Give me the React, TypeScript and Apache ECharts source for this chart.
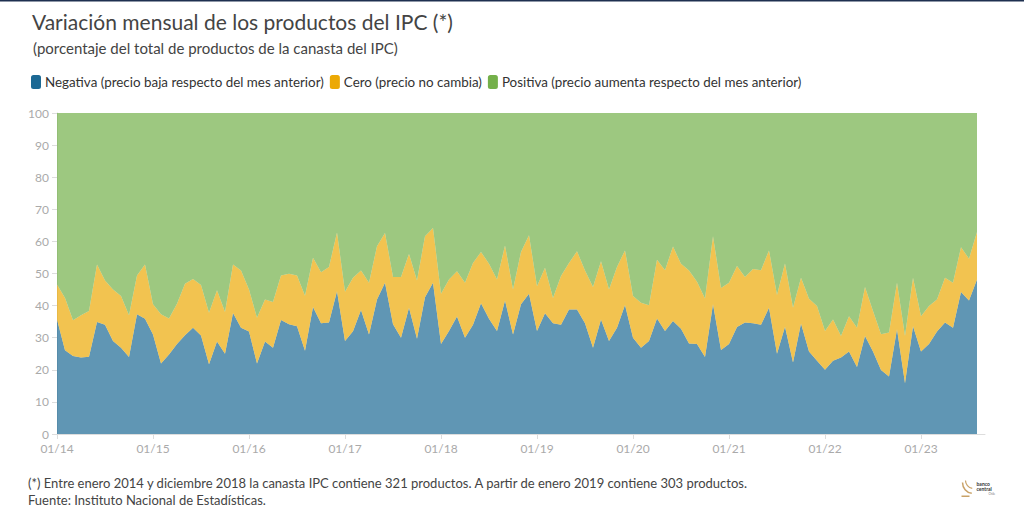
import { useEffect, useRef } from 'react';
import * as echarts from 'echarts';

// meses ene-2014 .. sep-2023 (el último sin dato, deja el aire a la derecha del eje)
const years = ['14', '15', '16', '17', '18', '19', '20', '21', '22', '23'];
const months = ['01', '02', '03', '04', '05', '06', '07', '08', '09', '10', '11', '12'];
const categories: string[] = [];
years.forEach((y) => months.forEach((m) => categories.push(`${m}/${y}`)));
categories.splice(117);

// % de productos con variación negativa
const negativa = [
  35.7, 26.1, 24.3, 23.8, 24.1, 34.9, 34.0, 29.0, 26.9, 24.0, 37.3, 35.9,
  31.0, 22.0, 24.8, 28.0, 30.8, 33.1, 30.7, 21.7, 28.8, 25.0, 37.7, 33.1,
  31.9, 22.0, 28.8, 26.9, 35.5, 34.2, 33.6, 25.9, 39.6, 34.5, 34.7, 44.5,
  29.0, 32.0, 38.6, 31.0, 41.9, 47.1, 34.2, 30.0, 39.3, 29.7, 42.6, 47.1,
  28.0, 32.1, 36.6, 30.0, 34.0, 40.7, 35.9, 32.1, 41.6, 31.0, 40.4, 43.7,
  32.1, 37.6, 34.5, 34.0, 38.8, 38.8, 34.5, 26.9, 35.7, 29.0, 33.1, 40.2,
  30.0, 26.9, 29.0, 36.0, 32.1, 35.2, 32.8, 28.2, 28.0, 24.0, 40.4, 26.2,
  28.0, 33.3, 34.7, 34.5, 34.0, 39.3, 25.0, 33.4, 22.3, 34.4, 25.7, 22.8,
  20.0, 22.8, 23.8, 25.7, 20.9, 30.5, 25.7, 19.9, 17.9, 32.6, 15.8, 33.6,
  25.7, 28.0, 31.9, 34.7, 33.1, 44.2, 41.6, 48.1,
];

// % de productos sin cambio de precio
const cero = [
  10.9, 16.3, 11.1, 13.2, 14.2, 17.9, 13.8, 16.0, 16.1, 13.0, 12.1, 16.9,
  9.4, 15.3, 11.2, 12.6, 16.0, 15.2, 15.7, 16.1, 16.0, 13.0, 15.1, 17.8,
  13.1, 14.2, 13.1, 14.2, 13.9, 15.7, 15.8, 17.2, 15.3, 15.9, 17.3, 18.3,
  15.3, 16.7, 12.3, 16.1, 16.6, 15.5, 14.7, 18.9, 16.8, 18.1, 19.0, 17.1,
  15.7, 16.0, 14.1, 17.1, 19.3, 16.0, 17.1, 16.0, 17.1, 14.0, 16.3, 18.2,
  13.9, 14.2, 7.9, 15.2, 14.5, 18.1, 16.4, 18.9, 18.1, 16.0, 18.9, 17.0,
  13.0, 14.0, 11.1, 18.3, 18.9, 23.2, 20.2, 22.7, 19.4, 18.2, 21.2, 19.3,
  19.1, 19.0, 14.2, 16.9, 17.0, 17.9, 18.3, 19.7, 17.0, 14.3, 16.4, 17.1,
  12.1, 12.9, 6.7, 11.0, 12.2, 15.3, 12.6, 11.2, 13.7, 14.5, 14.7, 15.1,
  11.0, 11.9, 10.0, 14.0, 14.0, 14.0, 13.0, 14.8,
];

// % de productos con variación positiva
const positiva = [
  53.4, 57.6, 64.6, 63.0, 61.7, 47.2, 52.2, 55.0, 57.0, 63.0, 50.6, 47.2,
  59.6, 62.7, 64.0, 59.4, 53.2, 51.7, 53.6, 62.2, 55.2, 62.0, 47.2, 49.1,
  55.0, 63.8, 58.1, 58.9, 50.6, 50.1, 50.6, 56.9, 45.1, 49.6, 48.0, 37.2,
  55.7, 51.3, 49.1, 52.9, 41.5, 37.4, 51.1, 51.1, 43.9, 52.2, 38.4, 35.8,
  56.3, 51.9, 49.3, 52.9, 46.7, 43.3, 47.0, 51.9, 41.3, 55.0, 43.3, 38.1,
  54.0, 48.2, 57.6, 50.8, 46.7, 43.1, 49.1, 54.2, 46.2, 55.0, 48.0, 42.8,
  57.0, 59.1, 59.9, 45.7, 49.0, 41.6, 47.0, 49.1, 52.6, 57.8, 38.4, 54.5,
  52.9, 47.7, 51.1, 48.6, 49.0, 42.8, 56.7, 46.9, 60.7, 51.3, 57.9, 60.1,
  67.9, 64.3, 69.5, 63.3, 66.9, 54.2, 61.7, 68.9, 68.4, 52.9, 69.5, 51.3,
  63.3, 60.1, 58.1, 51.3, 52.9, 41.8, 45.4, 37.1,
];

const FONT = 'Lato, "Open Sans", sans-serif';
const axisGrey = '#dddddd';
const labelGrey = '#aaaaaa';
const textDark = '#444444';

export default function App() {
  const chartRef = useRef<HTMLDivElement>(null);

  useEffect(() => {
    document.body.style.margin = '0';
    if (!chartRef.current) return;
    const chart = echarts.init(chartRef.current, undefined, { renderer: 'svg' });

    const area = (name: string, color: string, values: number[]) => ({
      name,
      type: 'line' as const,
      stack: 'total',
      data: values,
      showSymbol: false,
      symbol: 'none',
      color,
      lineStyle: { width: 0 },
      areaStyle: { color, opacity: 0.7 },
      emphasis: { disabled: true },
    });

    chart.setOption({
      animation: false,
      backgroundColor: '#ffffff',
      textStyle: { fontFamily: FONT },
      title: [
        {
          text: 'Variación mensual de los productos del IPC (*)',
          left: 27,
          top: 6,
          textStyle: { fontFamily: FONT, fontSize: 21, fontWeight: 'normal', color: textDark },
        },
        {
          text: '(porcentaje del total de productos de la canasta del IPC)',
          left: 28,
          top: 35,
          textStyle: { fontFamily: FONT, fontSize: 15, fontWeight: 'normal', color: textDark },
        },
      ],
      legend: {
        left: 26,
        top: 70,
        icon: 'roundRect',
        itemWidth: 10,
        itemHeight: 14,
        itemGap: 6,
        textStyle: { fontFamily: FONT, fontSize: 13.4, color: '#333333', padding: [0, 0, 0, -1] },
        data: [
          'Negativa (precio baja respecto del mes anterior)',
          'Cero (precio no cambia)',
          'Positiva (precio aumenta respecto del mes anterior)',
        ],
      },
      grid: { left: 57, right: 39, top: 113, bottom: 81 },
      xAxis: {
        type: 'category',
        data: categories,
        boundaryGap: false,
        axisLine: { lineStyle: { color: axisGrey } },
        axisTick: { show: true, interval: 11, length: 5, lineStyle: { color: axisGrey } },
        axisLabel: { interval: 11, color: labelGrey, fontSize: 12, margin: 8, fontFamily: FONT },
        splitLine: { show: false },
      },
      yAxis: {
        type: 'value',
        min: 0,
        max: 100,
        interval: 10,
        axisLine: { show: true, lineStyle: { color: axisGrey } },
        axisTick: { show: true, length: 5, lineStyle: { color: axisGrey } },
        axisLabel: { color: labelGrey, fontSize: 12, margin: 8, fontFamily: FONT },
        splitLine: { show: false },
      },
      series: [
        area('Negativa (precio baja respecto del mes anterior)', '#1c6994', negativa),
        area('Cero (precio no cambia)', '#eca905', cero),
        area('Positiva (precio aumenta respecto del mes anterior)', '#74b04a', positiva),
      ],
      graphic: [
        { type: 'rect', left: 0, top: 0, shape: { width: 1024, height: 1.5 }, style: { fill: '#1e3050' } },
        {
          type: 'text',
          left: 28,
          top: 476,
          style: {
            text: '(*) Entre enero 2014 y diciembre 2018 la canasta IPC contiene 321 productos. A partir de enero 2019 contiene 303 productos.',
            fill: textDark,
            font: `13px ${FONT}`,
          },
        },
        {
          type: 'text',
          left: 28,
          top: 493,
          style: { text: 'Fuente: Instituto Nacional de Estadísticas.', fill: textDark, font: `13px ${FONT}` },
        },
        // logo
        {
          type: 'group',
          left: 960,
          top: 478,
          children: [
            { type: 'arc', shape: { cx: 12, cy: 4, r: 11, startAngle: Math.PI * 0.55, endAngle: Math.PI * 1.0 }, style: { stroke: '#c9a268', lineWidth: 1.5, fill: 'none' } },
            { type: 'arc', shape: { cx: 12, cy: 2, r: 8, startAngle: Math.PI * 0.55, endAngle: Math.PI * 1.0 }, style: { stroke: '#c9a268', lineWidth: 1.2, fill: 'none' } },
            { type: 'rect', shape: { x: 0, y: 17, width: 8, height: 1.5 }, style: { fill: '#c9a268' } },
            { type: 'text', x: 15, y: 3, style: { text: 'banco', fill: '#333', font: `bold 5px ${FONT}` } },
            { type: 'text', x: 15, y: 8, style: { text: 'central', fill: '#333', font: `bold 5px ${FONT}` } },
            { type: 'text', x: 27, y: 14, style: { text: 'Chile', fill: '#777', font: `3px ${FONT}` } },
          ],
        },
      ],
    } as any);

    return () => {
      chart.dispose();
    };
  }, []);

  return <div ref={chartRef} style={{ width: 1024, height: 515 }} />;
}
